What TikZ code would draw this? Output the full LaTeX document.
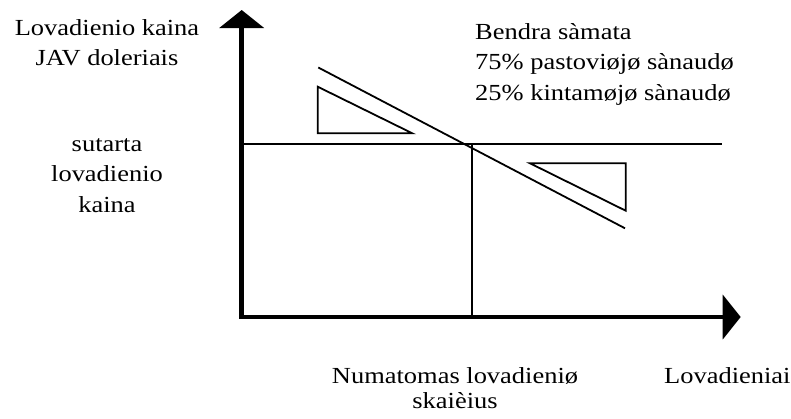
\documentclass[tikz,border=0pt]{standalone}
\usepackage{fontspec}
\setmainfont{Liberation Serif}[FakeStretch=1.15]
\usetikzlibrary{arrows.meta}
\tikzset{
  axis/.style={line width=4.7pt, line join=miter,
    {Triangle[width=44pt,length=18pt]}-{Triangle[width=44pt,length=18pt]}},
  thinline/.style={line width=1.8pt, line join=miter},
  lbl/.style={inner sep=0pt, anchor=base, font=\fontsize{23}{30.5}\selectfont},
}
\begin{document}
\begin{tikzpicture}[x=1pt,y=-1pt]
\useasboundingbox (0,0) rectangle (791,418);
% named points
\coordinate (ytop) at (241.7,10);
\coordinate (orig) at (241.7,317);
\coordinate (xend) at (740.7,317);
\coordinate (hl) at (241.7,144);
\coordinate (hr) at (721.7,144);
\coordinate (cross) at (471.7,144);
\coordinate (crossb) at (471.7,317);
\coordinate (ds) at (318.3,67.5);
\coordinate (de) at (625,228.3);
\coordinate (ta) at (317.7,86.7);
\coordinate (tb) at (317.7,133.3);
\coordinate (tc) at (412.3,133.3);
\coordinate (ua) at (530,163.3);
\coordinate (ub) at (625.7,163.3);
\coordinate (uc) at (625.7,210.7);
% thin lines
\draw[thinline] (hl) -- (hr);
\draw[thinline] (cross) -- (crossb);
\draw[thinline] (ds) -- (de);
\draw[thinline] (ta) -- (tb) -- (tc) -- cycle;
\draw[thinline] (ua) -- (ub) -- (uc) -- cycle;
% axes
\draw[axis] (ytop) -- (orig) -- (xend);
% labels (multi-line nodes: base anchor = baseline of last line)
\node[lbl, align=center] (ylab) at (107,65.7) {Lovadienio kaina\\JAV doleriais};
\node[lbl, align=center] (plab) at (107,212) {sutarta\\lovadienio\\kaina};
\node[lbl, align=left, anchor=base west] (blab) at (475,100) {Bendra sàmata\\75\% pastoviøjø sànaudø\\25\% kintamøjø sànaudø};
\node[lbl, align=center, font=\fontsize{23}{25}\selectfont] (nlab) at (455,408) {Numatomas lovadieniø\\skaièius};
\node[lbl, anchor=base west] (xlab) at (664,383) {Lovadieniai};
\end{tikzpicture}
\end{document}
